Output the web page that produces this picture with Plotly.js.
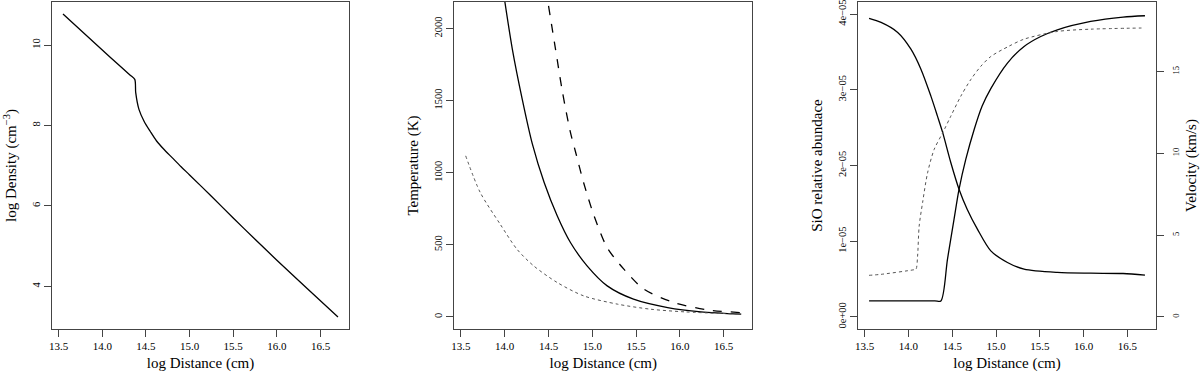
<!DOCTYPE html>
<html>
<head>
<meta charset="utf-8">
<script src="https://cdn.plot.ly/plotly-3.0.1.min.js"></script>
<style>
  html, body { margin: 0; padding: 0; background: #fff; }
  #myDiv { width: 1200px; height: 374px; }
</style>
</head>
<body>
<div id="myDiv"></div>
<script>
// panel 1: density
var densX = [13.55, 14.10, 14.32, 14.372, 14.383, 14.42, 14.48, 14.55, 14.62, 14.70, 14.80, 14.90, 15.00, 15.25, 15.50, 15.75, 16.00, 16.35, 16.70];
var densY = [10.77, 9.68, 9.25, 9.147, 8.816, 8.40, 8.10, 7.85, 7.62, 7.42, 7.20, 6.98, 6.77, 6.24, 5.70, 5.17, 4.65, 3.94, 3.24];

// panel 2: temperature
var tSolidX = [14.0, 14.087, 14.20, 14.315, 14.45, 14.60, 14.75, 14.94, 15.17, 15.47, 15.86, 16.24, 16.70];
var tSolidY = [2191, 1856, 1509, 1200, 932, 700, 516, 354, 215, 123, 65, 35, 19];
var tDashX = [14.50, 14.58, 14.66, 14.75, 14.81, 14.90, 15.02, 15.17, 15.36, 15.59, 15.93, 16.31, 16.69];
var tDashY = [2157, 1856, 1556, 1279, 1140, 932, 700, 480, 331, 192, 100, 49, 30];
var tDotX = [13.554, 13.72, 13.95, 14.14, 14.33, 14.60, 14.90, 15.29, 15.67, 16.05, 16.69];
var tDotY = [1117, 863, 641, 469, 354, 238, 146, 88, 53, 35, 19];

// panel 3: SiO abundance (left axis) and velocity (right axis)
var sioX = [13.55, 13.687, 13.877, 14.028, 14.142, 14.255, 14.33, 14.39, 14.483, 14.577, 14.67, 14.787, 14.94, 15.13, 15.32, 15.70, 16.08, 16.45, 16.70];
var sioY = [3.943e-5, 3.89e-5, 3.758e-5, 3.537e-5, 3.273e-5, 2.92e-5, 2.656e-5, 2.437e-5, 2.04e-5, 1.687e-5, 1.423e-5, 1.159e-5, 0.872e-5, 0.719e-5, 0.63e-5, 0.587e-5, 0.577e-5, 0.573e-5, 0.551e-5];
var velSolidX = [13.55, 14.30, 14.37, 14.445, 14.52, 14.577, 14.654, 14.75, 14.84, 14.94, 15.13, 15.32, 15.51, 15.70, 16.08, 16.45, 16.70];
var velSolidY = [0.976, 0.976, 0.976, 3.52, 5.96, 7.79, 9.62, 11.45, 12.87, 13.95, 15.51, 16.52, 17.13, 17.54, 18.05, 18.32, 18.40];
var velDotX = [13.55, 13.687, 14.05, 14.085, 14.104, 14.122, 14.161, 14.218, 14.293, 14.39, 14.483, 14.597, 14.71, 14.824, 14.94, 15.14, 15.32, 15.70, 16.08, 16.66];
var velDotY = [2.54, 2.60, 2.87, 2.91, 3.72, 5.55, 6.98, 8.80, 10.23, 11.24, 12.26, 13.48, 14.49, 15.30, 15.91, 16.52, 16.97, 17.44, 17.58, 17.65];

var xTicks = [13.5, 14.0, 14.5, 15.0, 15.5, 16.0, 16.5];
var xTickText = ['13.5', '14.0', '14.5', '15.0', '15.5', '16.0', '16.5'];
var densTicks = [4, 6, 8, 10];
var tempTicks = [0, 500, 1000, 1500, 2000];
var sioTicks = [0, 1e-5, 2e-5, 3e-5, 4e-5];
var sioTickText = ['0e+00', '1e\u221205', '2e\u221205', '3e\u221205', '4e\u221205'];
var velTicks = [0, 5, 10, 15];

var serif = 'Liberation Serif, Times New Roman, serif';
var boxCol = '#444';

function xAxis(domain, anchor) {
    return {
        domain: domain, anchor: anchor,
        range: [13.424, 16.826],
        tickvals: xTicks, ticktext: xTickText,
        ticks: 'outside', ticklen: 7, tickcolor: boxCol, tickwidth: 1,
        showline: true, linecolor: boxCol, linewidth: 1, mirror: true,
        showgrid: false, zeroline: false,
        tickfont: {family: serif, size: 11, color: '#000'},
        title: {text: 'log Distance (cm)', font: {family: serif, size: 15, color: '#000'}, standoff: 6}
    };
}

function yAxis(anchor, range, ticks, title, extra) {
    var ax = {
        anchor: anchor, domain: [0, 1],
        range: range, tickvals: ticks,
        ticks: 'outside', ticklen: 7, tickcolor: boxCol, tickwidth: 1,
        tickangle: -90, ticklabeloverflow: 'allow',
        showline: true, linecolor: boxCol, linewidth: 1, mirror: true,
        showgrid: false, zeroline: false,
        tickfont: {family: serif, size: 10.5, color: '#000'},
        title: {text: title, font: {family: serif, size: 15, color: '#000'}, standoff: 10}
    };
    for (var k in extra) ax[k] = extra[k];
    return ax;
}

var solid = {color: '#000', width: 1.3, shape: 'spline', smoothing: 0.8};
var dashed = {color: '#000', width: 1.3, dash: 'dash', shape: 'spline', smoothing: 0.8};
var dotted = {color: '#555', width: 1, dash: 'dot', shape: 'spline', smoothing: 0.8};

var data = [
    {x: densX, y: densY, xaxis: 'x', yaxis: 'y', mode: 'lines', line: solid},
    {x: tSolidX, y: tSolidY, xaxis: 'x2', yaxis: 'y2', mode: 'lines', line: solid},
    {x: tDashX, y: tDashY, xaxis: 'x2', yaxis: 'y2', mode: 'lines', line: dashed},
    {x: tDotX, y: tDotY, xaxis: 'x2', yaxis: 'y2', mode: 'lines', line: dotted},
    {x: sioX, y: sioY, xaxis: 'x3', yaxis: 'y3', mode: 'lines', line: solid},
    {x: velSolidX, y: velSolidY, xaxis: 'x3', yaxis: 'y4', mode: 'lines', line: solid},
    {x: velDotX, y: velDotY, xaxis: 'x3', yaxis: 'y4', mode: 'lines', line: dotted}
];

var layout = {
    width: 1200, height: 374,
    margin: {l: 52, r: 44, t: 2, b: 45},
    showlegend: false,
    paper_bgcolor: '#fff', plot_bgcolor: '#fff',
    xaxis: xAxis([0, 0.269], 'y'),
    xaxis2: xAxis([0.3644, 0.6343], 'y2'),
    xaxis3: xAxis([0.7301, 1], 'y3'),
    yaxis: yAxis('x', [2.94, 11.07], densTicks, 'log Density (cm<sup>\u22123</sup>)', {}),
    yaxis2: yAxis('x2', [-84, 2184], tempTicks, 'Temperature (K)', {}),
    yaxis3: yAxis('x3', [-0.16e-5, 4.16e-5], sioTicks, 'SiO relative abundace', {ticktext: sioTickText}),
    yaxis4: yAxis('x3', [-0.74, 19.24], velTicks, 'Velocity (km/s)', {
        overlaying: 'y3', side: 'right', mirror: false, ticklabelstandoff: 5,
        tickfont: {family: serif, size: 8.5, color: '#000'}
    })
};

Plotly.newPlot('myDiv', data, layout, {staticPlot: true});
</script>
</body>
</html>
